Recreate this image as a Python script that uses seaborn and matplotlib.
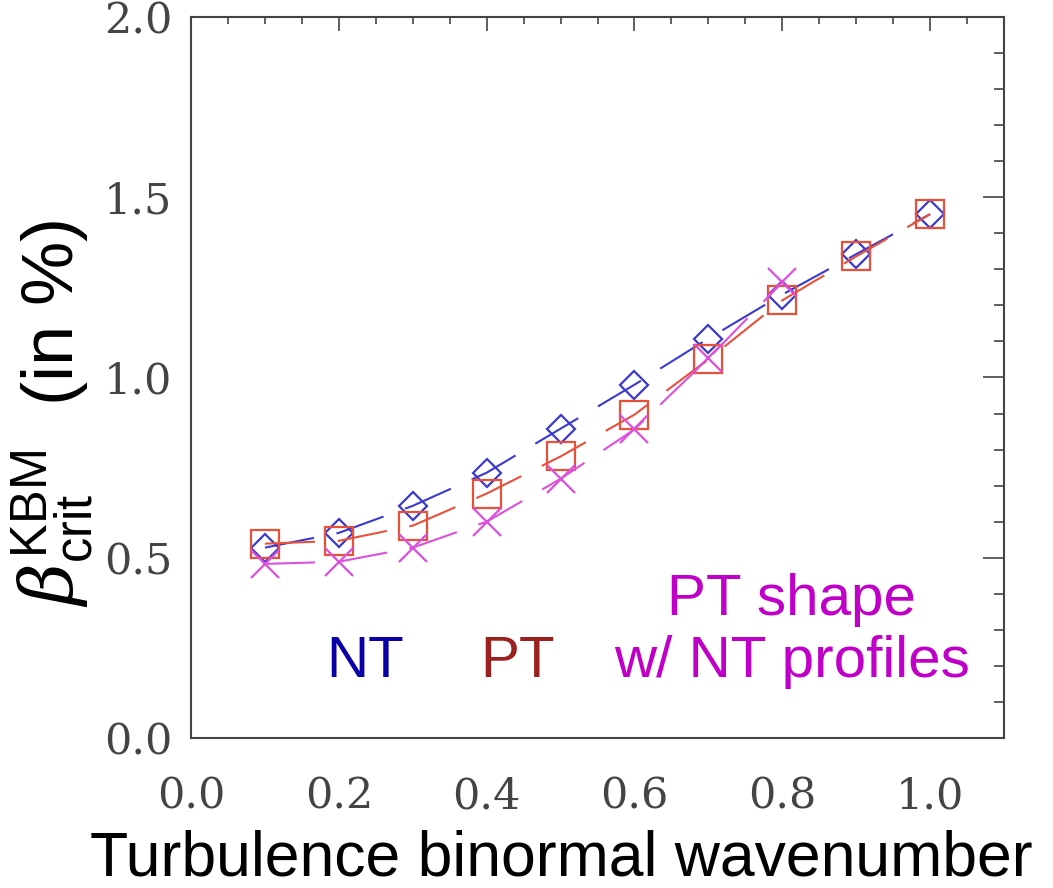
import matplotlib
matplotlib.use("Agg")
import matplotlib.pyplot as plt
from matplotlib.ticker import MultipleLocator, FormatStrFormatter
import seaborn as sns
import pandas as pd

# Turbulence binormal wavenumber
k_nt = [0.1, 0.2, 0.3, 0.4, 0.5, 0.6, 0.7, 0.8, 0.9, 1.0]
k_pt = [0.1, 0.2, 0.3, 0.4, 0.5, 0.6, 0.7, 0.8, 0.9, 1.0]
k_mix = [0.1, 0.2, 0.3, 0.4, 0.5, 0.6, 0.7, 0.8]

# Critical KBM beta (in %)
beta_nt = [0.528, 0.569, 0.644, 0.736, 0.858, 0.980, 1.108, 1.230, 1.342, 1.453]
beta_pt = [0.539, 0.547, 0.589, 0.678, 0.781, 0.897, 1.050, 1.214, 1.336, 1.453]
beta_mix = [0.483, 0.489, 0.528, 0.600, 0.719, 0.856, 1.053, 1.264]

sns.set_style("white")
plt.rcParams["font.family"] = ["Liberation Sans", "DejaVu Sans"]
plt.rcParams["mathtext.fontset"] = "custom"
plt.rcParams["mathtext.rm"] = "Liberation Sans"
plt.rcParams["mathtext.it"] = "DejaVu Serif:italic"

fig = plt.figure(figsize=(10.53, 8.88), dpi=100)
ax = fig.add_axes([0.1814, 0.1689, 0.7721, 0.8120])

series = [
    (k_nt, beta_nt, "#3a3ad0", "D", 14.5),
    (k_pt, beta_pt, "#e8503a", "s", 20.5),
    (k_mix, beta_mix, "#dd4fdd", "x", 20.0),
]
for k, beta, color, marker, msize in series:
    df = pd.DataFrame({"k": k, "beta": beta})
    sns.lineplot(
        data=df, x="k", y="beta", ax=ax, color=color, legend=False,
        errorbar=None, linewidth=1.5, linestyle=(0, (24, 11)),
        marker=marker, markersize=msize, markerfacecolor="none",
        markeredgecolor=color, markeredgewidth=1.6,
    )

ax.set_xlim(0.0, 1.1)
ax.set_ylim(0.0, 2.0)
ax.xaxis.set_major_locator(MultipleLocator(0.2))
ax.xaxis.set_minor_locator(MultipleLocator(0.05))
ax.yaxis.set_major_locator(MultipleLocator(0.5))
ax.yaxis.set_minor_locator(MultipleLocator(0.1))
ax.xaxis.set_major_formatter(FormatStrFormatter("%.1f"))
ax.yaxis.set_major_formatter(FormatStrFormatter("%.1f"))

for side in ax.spines.values():
    side.set_color("#444444")
    side.set_linewidth(1.5)

ax.tick_params(which="both", direction="in", top=True, right=True,
               color="#444444", width=1.2)
ax.tick_params(axis="x", which="major", length=10, pad=27)
ax.tick_params(axis="x", which="minor", length=5)
ax.tick_params(axis="y", which="major", length=15, pad=13.5)
ax.tick_params(axis="y", which="minor", length=7)
for lab in ax.get_xticklabels() + ax.get_yticklabels():
    lab.set_fontfamily("DejaVu Serif")
    lab.set_fontsize(31)
    lab.set_color("#444444")

ax.set_xlabel("Turbulence binormal wavenumber", fontsize=45, color="black")
ax.xaxis.set_label_coords(0.456, -0.190)
ax.xaxis.label.set_va("baseline")

ax.set_ylabel(r"$\beta^{\rm KBM}_{\rm crit}$  (in %)", fontsize=52, color="black")
ax.yaxis.set_label_coords(-0.170, 0.45)
ax.yaxis.label.set_va("center")

ax.text(0.236, 0.169, "NT", color="#0a00a8", fontsize=42, ha="center", va="baseline")
ax.text(0.442, 0.169, "PT", color="#9b2020", fontsize=42, ha="center", va="baseline")
ax.text(0.813, 0.169, "PT shape\nw/ NT profiles", color="#c000c8", fontsize=42,
        ha="center", va="baseline", multialignment="center", linespacing=1.2)

fig.savefig("out.png", dpi=100, facecolor="white")
